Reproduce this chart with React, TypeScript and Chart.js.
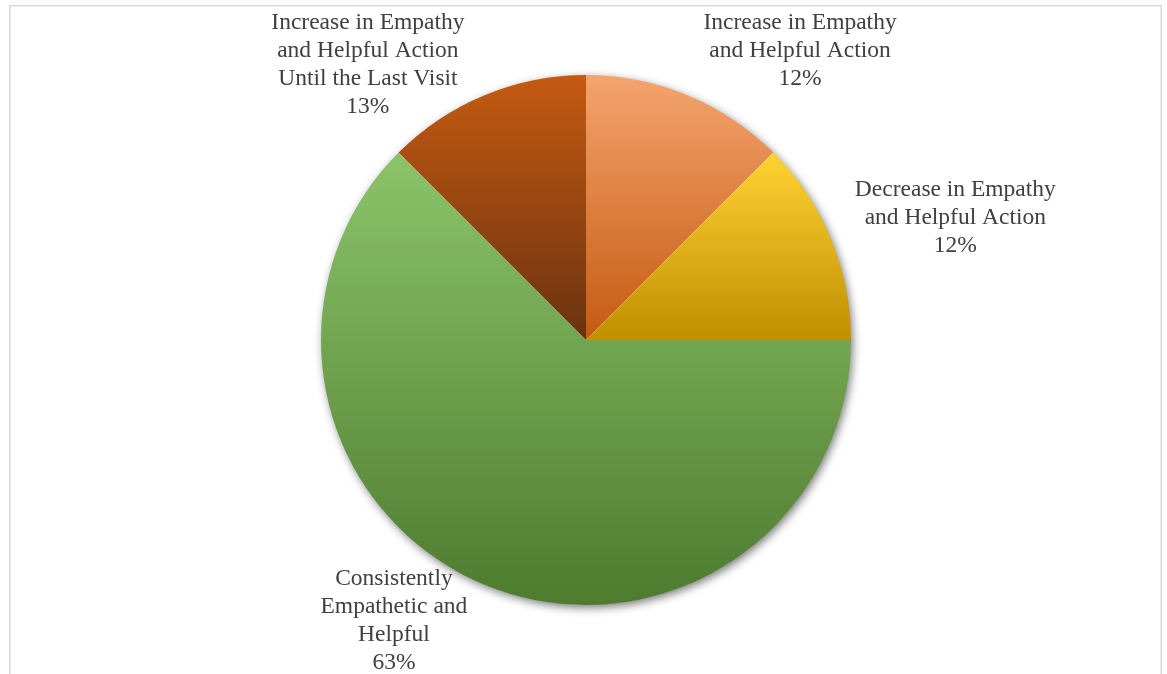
import React, { useEffect, useRef } from 'react';
import { Chart, registerables } from 'chart.js';

Chart.register(...registerables);

const categories = [
  'Increase in Empathy and Helpful Action',
  'Decrease in Empathy and Helpful Action',
  'Consistently Empathetic and Helpful',
  'Increase in Empathy and Helpful Action Until the Last Visit',
];
const values = [12.5, 12.5, 62.5, 12.5];
const percentLabels = ['12%', '12%', '63%', '13%'];
const labelLines = [
  ['Increase in Empathy', 'and Helpful Action'],
  ['Decrease in Empathy', 'and Helpful Action'],
  ['Consistently', 'Empathetic and', 'Helpful'],
  ['Increase in Empathy', 'and Helpful Action', 'Until the Last Visit'],
];
const gradientTop = ['#F4A46E', '#FFD233', '#8CC46A', '#C55A11'];
const gradientBottom = ['#C55A11', '#BF8F00', '#4E7B2F', '#6A3210'];
// label placement: angle (deg clockwise from top) and distance as a factor of radius
const labelAngle = [36.5, 71.7, 214.4, 321.6];
const labelDist = [1.358, 1.468, 1.283, 1.325];

function pieGeom(chart: any) {
  const a = chart.chartArea;
  const cx = (a.left + a.right) / 2;
  const cy = (a.top + a.bottom) / 2;
  const r = Math.min(a.right - a.left, a.bottom - a.top) / 2;
  return { cx, cy, r };
}

function sliceYRange(chart: any, index: number) {
  const { cy, r } = pieGeom(chart);
  const total = values.reduce((s, v) => s + v, 0);
  let start = -Math.PI / 2;
  for (let i = 0; i < index; i++) start += (values[i] / total) * Math.PI * 2;
  const end = start + (values[index] / total) * Math.PI * 2;
  const ys = [cy, cy + r * Math.sin(start), cy + r * Math.sin(end)];
  for (const ang of [-Math.PI / 2, Math.PI / 2, (3 * Math.PI) / 2]) {
    if (ang >= start && ang <= end) ys.push(cy + r * Math.sin(ang));
  }
  return [Math.min(...ys), Math.max(...ys)];
}

const framePlugin = {
  id: 'frame',
  beforeDraw(chart: any) {
    const ctx = chart.ctx;
    ctx.save();
    ctx.fillStyle = '#ffffff';
    ctx.fillRect(0, 0, chart.width, chart.height);
    ctx.strokeStyle = '#d9d9d9';
    ctx.lineWidth = 1.5;
    ctx.strokeRect(9.75, 5.75, 1151.5, 720);
    ctx.restore();
  },
  beforeDatasetsDraw(chart: any) {
    const ctx = chart.ctx;
    const { cx, cy, r } = pieGeom(chart);
    ctx.save();
    ctx.shadowColor = 'rgba(0,0,0,0.55)';
    ctx.shadowBlur = 10;
    ctx.shadowOffsetX = 2;
    ctx.shadowOffsetY = 3;
    ctx.fillStyle = '#ffffff';
    ctx.beginPath();
    ctx.arc(cx, cy, r - 0.5, 0, Math.PI * 2);
    ctx.fill();
    ctx.restore();
  },
  afterDatasetsDraw(chart: any) {
    const ctx = chart.ctx;
    const { cx, cy, r } = pieGeom(chart);
    ctx.save();
    ctx.fillStyle = '#404040';
    ctx.font = '23.5px "Liberation Serif", "Times New Roman", serif';
    ctx.textAlign = 'center';
    ctx.textBaseline = 'middle';
    const lh = 28;
    labelLines.forEach((lines, i) => {
      const all = [...lines, percentLabels[i]];
      const ang = (labelAngle[i] * Math.PI) / 180;
      const bx = cx + Math.sin(ang) * r * labelDist[i];
      const by = cy - Math.cos(ang) * r * labelDist[i];
      const y0 = by - ((all.length - 1) * lh) / 2;
      all.forEach((t, j) => ctx.fillText(t, bx, y0 + j * lh));
    });
    ctx.restore();
  },
};

export default function App() {
  const ref = useRef<HTMLCanvasElement>(null);
  useEffect(() => {
    if (!ref.current) return;
    const chart = new Chart(ref.current, {
      type: 'pie',
      data: {
        labels: categories,
        datasets: [
          {
            data: values,
            borderWidth: 0,
            hoverOffset: 0,
            offset: 0,
            backgroundColor: (c: any) => {
              const chart = c.chart;
              if (!chart.chartArea || c.dataIndex === undefined) return gradientTop[0];
              const [y0, y1] = sliceYRange(chart, c.dataIndex);
              const g = chart.ctx.createLinearGradient(0, y0, 0, y1);
              g.addColorStop(0, gradientTop[c.dataIndex]);
              g.addColorStop(1, gradientBottom[c.dataIndex]);
              return g;
            },
          },
        ],
      },
      options: {
        responsive: false,
        animation: false,
        events: [],
        layout: { padding: { left: 321, right: 316, top: 75, bottom: 69 } },
        plugins: { legend: { display: false }, tooltip: { enabled: false } },
      },
      plugins: [framePlugin],
    });
    return () => chart.destroy();
  }, []);
  return (
    <div style={{ position: 'fixed', left: 0, top: 0, width: 1167, height: 674, background: '#fff' }}>
      <canvas ref={ref} width={1167} height={674} style={{ width: 1167, height: 674, display: 'block' }} />
    </div>
  );
}
